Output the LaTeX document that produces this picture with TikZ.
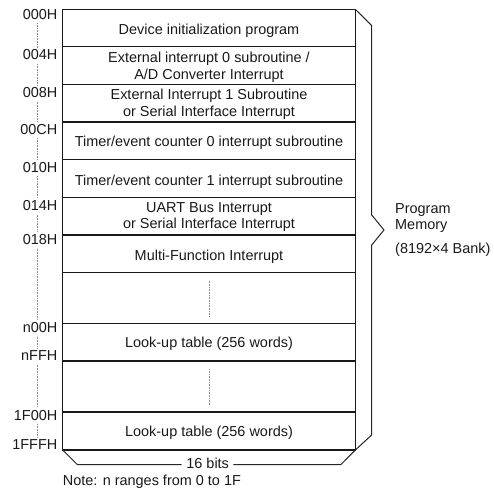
\documentclass[tikz,border=0pt]{standalone}
\usepackage{fontspec}
\setmainfont{Liberation Sans}
\begin{document}
\begin{tikzpicture}[x=1bp,y=-1bp,
  every node/.style={font=\fontsize{14.5}{16.5}\selectfont, inner sep=0pt, text=black!90},
  boxline/.style={line width=1.2bp, draw=black!90},
  braceline/.style={line width=1bp, draw=black!85},
  addr/.style={anchor=base east},
  cell/.style={anchor=base},
  guide/.style={densely dotted, line width=0.6bp, draw=black!45},
  side/.style={anchor=base west}]
\useasboundingbox (0,0) rectangle (494,496);
% memory box
\coordinate (tl) at (62.7,9.3);
\coordinate (br) at (355.3,450);
\draw[boxline] (tl) rectangle (br);
\foreach \y in {46.9,84.5,122.1,159.7,197.3,234.9,272.5,323.3,361,412}
  \draw[boxline] (62.7,\y) -- (355.3,\y);
% cell texts
\node[cell] (c0) at (209,35) {Device initialization program};
\node[cell] (c1a) at (209,62.7) {External interrupt 0 subroutine /};
\node[cell] (c1b) at (209,79.3) {A/D Converter Interrupt};
\node[cell] (c2a) at (209,100) {External Interrupt 1 Subroutine};
\node[cell] (c2b) at (209,116.7) {or Serial Interface Interrupt};
\node[cell] (c3) at (209,146.7) {Timer/event counter 0 interrupt subroutine};
\node[cell] (c4) at (209,185.7) {Timer/event counter 1 interrupt subroutine};
\node[cell] (c5a) at (209,212.3) {UART Bus Interrupt};
\node[cell] (c5b) at (209,228.3) {or Serial Interface Interrupt};
\node[cell] (c6) at (209,260) {Multi-Function Interrupt};
\node[cell] (c8) at (209,347.3) {Look-up table (256 words)};
\node[cell] (c10) at (209,436.7) {Look-up table (256 words)};
% ellipsis guides in empty cells
\coordinate (e1t) at (209,280.7); \coordinate (e1b) at (209,316);
\coordinate (e2t) at (209,369.3); \coordinate (e2b) at (209,405);
\draw[guide] (e1t) -- (e1b);
\draw[guide] (e2t) -- (e2b);
% addresses
\node[addr] (a0) at (57.5,19.3) {000H};
\node[addr] (a1) at (57.5,60) {004H};
\node[addr] (a2) at (57.5,97.7) {008H};
\node[addr] (a3) at (57.5,134.3) {00CH};
\node[addr] (a4) at (57.5,172.3) {010H};
\node[addr] (a5) at (57.5,210.7) {014H};
\node[addr] (a6) at (57.5,244.5) {018H};
\node[addr] (a7) at (57.5,332.5) {n00H};
\node[addr] (a8) at (57.5,360.5) {nFFH};
\node[addr] (a9) at (57.5,420) {1F00H};
\node[addr] (a10) at (57.5,449.3) {1FFFH};
\foreach \a/\b/\ya/\yb in {a0/a1/19.3/60, a1/a2/60/97.7, a2/a3/97.7/134.3, a3/a4/134.3/172.3,
   a4/a5/172.3/210.7, a5/a6/210.7/244.5, a6/a7/244.5/332.5, a7/a8/332.5/360.5,
   a8/a9/360.5/420, a9/a10/420/449.3}
  \draw[guide] (37.7,\ya+4) -- (37.7,\yb-12.5);
% right brace
\coordinate (tr) at (355.3,9.3);
\coordinate (rb1) at (371.7,25.5);
\coordinate (rb2) at (371.7,215);
\coordinate (rtip) at (384,230);
\coordinate (rb3) at (371.7,245);
\coordinate (rb4) at (371.7,435);
\coordinate (rbr) at (355.3,450);
\draw[braceline, line join=miter] (tr) -- (rb1) -- (rb2) -- (rtip) -- (rb3) -- (rb4) -- (rbr);
\node[side] (pm1) at (395,213.3) {Program};
\node[side] (pm2) at (395,229.5) {Memory};
\node[side] (pm3) at (395,253.3) {(8192×4 Bank)};
% bottom brace
\coordinate (bl) at (62.7,450);
\coordinate (bb1) at (77.3,464.5);
\coordinate (bb2) at (181.7,464.5);
\coordinate (bb3) at (233.3,464.5);
\coordinate (bb4) at (341,464.5);
\node[cell] (bits) at (207.7,468.3) {16 bits};
\draw[braceline] (bl) -- (bb1) -- (bb2);
\draw[braceline] (bb3) -- (bb4) -- (rbr);
% note
\node[side] (note) at (62.7,485) {Note: n ranges from 0 to 1F};
\end{tikzpicture}
\end{document}
